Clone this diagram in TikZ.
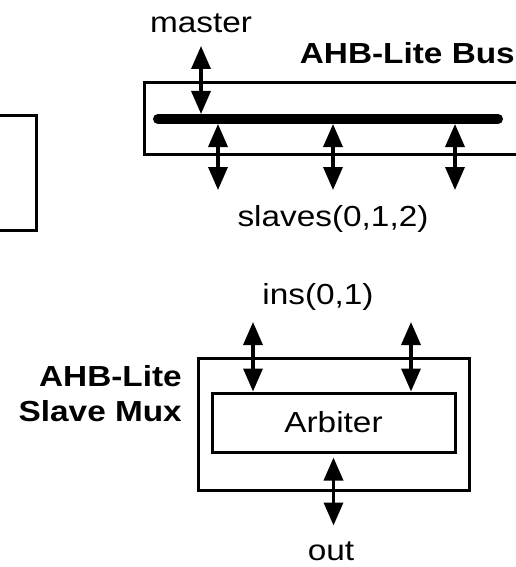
\documentclass[tikz,border=0pt]{standalone}
\usepackage{fontspec}
\setmainfont{Liberation Sans}[FakeStretch=1.15]
\usetikzlibrary{arrows.meta,positioning}

\begin{document}
\begin{tikzpicture}[x=1pt,y=-1pt,
  every node/.style={font=\fontsize{29}{35}\selectfont,inner sep=0pt},
  blk/.style={draw,line width=3pt,rectangle,anchor=north west},
  busbar/.style={line width=10pt,line cap=round},
  ttl/.style={font=\fontsize{29}{35}\selectfont\bfseries,align=right},
  bi/.style={{Triangle[width=19pt,length=23pt]}-{Triangle[width=19pt,length=23pt]},line width=3.5pt}]
\clip (0,0) rectangle (516,567);

% block cut off at the left border
\node[blk,anchor=north east,minimum width=80,minimum height=115] (prev) at (38,114) {};

% the bus
\node[blk,minimum width=420,minimum height=72] (bus) at (143,81) {};
\coordinate (bl) at (158,119);
\coordinate (br) at (498,119);
\draw[busbar] (bl)--(br);
\node[ttl,anchor=base east] (bustitle) at (515,64) {AHB-Lite Bus};
\node[anchor=base] (master) at (201,33) {master};
\node[anchor=base] (slaves) at (333,226) {slaves(0,1,2)};
\coordinate (m) at (201,114);
\draw[bi] ([yshift=-13pt]master.base)--(m);
\foreach \n/\x in {0/218,1/333,2/455}{
  \coordinate (s\n) at (\x,124);
  \draw[bi] (s\n)--++(0,66);
}

% the slave mux
\node[blk,minimum width=271,minimum height=132] (mux) at (197,357) {};
\node[draw,line width=3pt,minimum width=243,minimum height=59] (arb) at (333.5,422.5) {Arbiter};
\node[ttl,anchor=east] (muxtitle) at (182,394) {AHB-Lite\\Slave Mux};
\node[anchor=base] (ins) at (318,304) {ins(0,1)};
\node[anchor=base] (out) at (331,560) {out};
\foreach \n/\x in {0/253,1/411}{
  \coordinate (i\n) at (\x,322);
  \draw[bi] (i\n)--(i\n |- arb.north);
}
\draw[bi] ([yshift=-4pt]arb.south)--++(0,68);
\end{tikzpicture}
\end{document}
